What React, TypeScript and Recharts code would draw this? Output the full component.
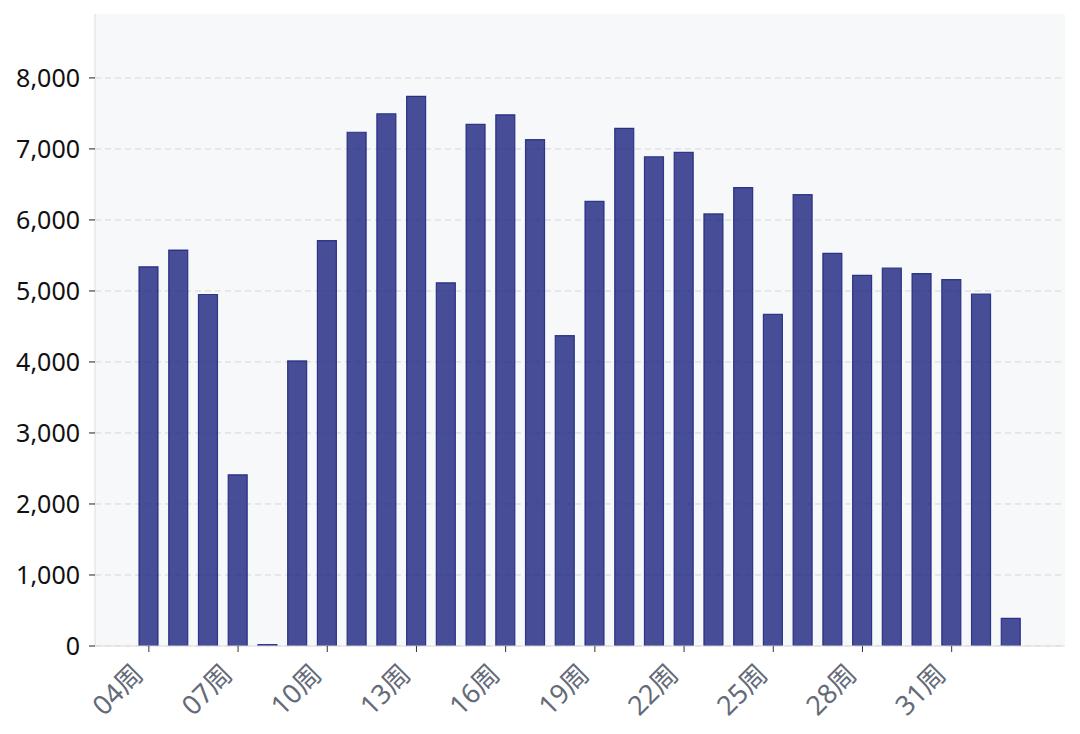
import React from 'react';
import { BarChart, Bar, XAxis, YAxis, CartesianGrid } from 'recharts';

// 周次と件数
const weeks = [
  '04周', '05周', '06周', '07周', '08周', '09周', '10周', '11周', '12周', '13周',
  '14周', '15周', '16周', '17周', '18周', '19周', '20周', '21周', '22周', '23周',
  '24周', '25周', '26周', '27周', '28周', '29周', '30周', '31周', '32周', '33周',
];
const counts = [
  5340, 5575, 4950, 2410, 20, 4015, 5710, 7235, 7495, 7740,
  5115, 7345, 7480, 7130, 4370, 6260, 7290, 6890, 6950, 6085,
  6455, 4670, 6355, 5530, 5220, 5320, 5245, 5160, 4955, 390,
];
const yTicks = [0, 1000, 2000, 3000, 4000, 5000, 6000, 7000, 8000];

const FONT = "'Noto Sans', 'Noto Sans CJK SC', sans-serif";

const data = weeks.map((week, i) => ({ week, count: counts[i] }));

const WeekTick = (props: any) => {
  const { x, y, payload } = props;
  return (
    <g transform={`translate(${x - 4},${y + 22}) rotate(-45)`}>
      <text x={0} y={0} textAnchor="end" fill="#646a78" fontSize={27} fontFamily={FONT}>
        {payload.value}
      </text>
    </g>
  );
};

export default function App() {
  return (
    <div style={{ position: 'absolute', left: 0, top: 0, width: 1080, height: 734, background: '#fff' }}>
      <BarChart
        width={1080}
        height={734}
        data={data}
        margin={{ top: 14, right: 15, left: 0, bottom: 0 }}
        barSize={19}
      >
        <CartesianGrid
          vertical={false}
          horizontalValues={yTicks}
          fill="#f7f8fa"
          stroke="#d4d6da"
          strokeDasharray="6 4"
        />
        <XAxis
          dataKey="week"
          interval={2}
          height={88}
          padding={{ left: 39, right: 39 }}
          axisLine={{ stroke: '#dddddd' }}
          tickLine={{ stroke: '#333333' }}
          tickSize={6}
          tick={<WeekTick />}
        />
        <YAxis
          width={95}
          domain={[0, 8900]}
          ticks={yTicks}
          allowDataOverflow
          axisLine={{ stroke: '#dddddd' }}
          tickLine={{ stroke: '#222222' }}
          tickSize={6}
          tickMargin={9}
          tickFormatter={(v: number) => v.toLocaleString('en-US')}
          tick={{ fill: '#111111', fontSize: 25, fontFamily: FONT }}
        />
        <Bar
          dataKey="count"
          fill="#1a237e"
          fillOpacity={0.8}
          stroke="#1a237e"
          strokeOpacity={0.85}
          strokeWidth={1.2}
          isAnimationActive={false}
        />
      </BarChart>
    </div>
  );
}
